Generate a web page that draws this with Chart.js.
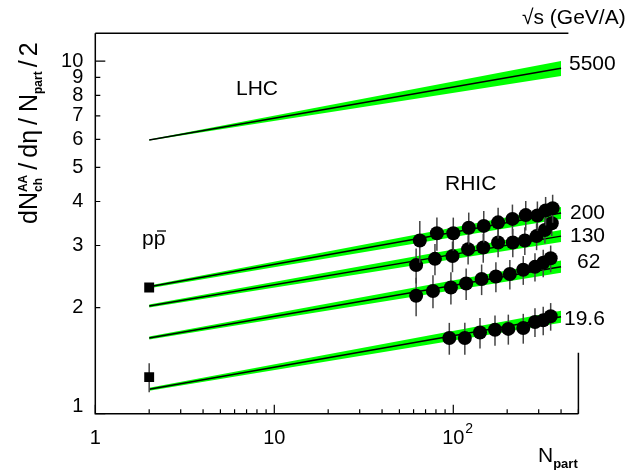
<!DOCTYPE html>
<html>
<head>
<meta charset="utf-8">
<script src="https://cdn.jsdelivr.net/npm/chart.js@4"></script>
<style>
  html, body { margin: 0; padding: 0; background: #fff; }
  #myChart { display: block; }
</style>
</head>
<body>
<canvas id="myChart" width="640" height="470"></canvas>
<script>
// N_part end points of the model curves
const bandNpart = [2, 400]

// model curves: central value, upper and lower edge of green band (at Npart = 2 and 400)
const lhcLine = [5.98, 9.55]
const lhcHi = [6.0, 10.02]
const lhcLo = [5.96, 9.08]

const line200 = [2.29, 3.71]
const hi200 = [2.31, 3.86]
const lo200 = [2.27, 3.57]

const line130 = [2.02, 3.19]
const hi130 = [2.04, 3.32]
const lo130 = [2.0, 3.07]

const line62 = [1.64, 2.61]
const hi62 = [1.655, 2.72]
const lo62 = [1.625, 2.51]

const line19 = [1.173, 1.885]
const hi19 = [1.185, 1.96]
const lo19 = [1.161, 1.81]

// RHIC data
const npart200 = [65, 81, 100, 122, 148, 178, 214, 254, 295, 328, 359]
const val200 = [3.10, 3.25, 3.25, 3.37, 3.41, 3.49, 3.57, 3.66, 3.65, 3.77, 3.83]
const err200 = [0.42, 0.35, 0.35, 0.35, 0.35, 0.35, 0.35, 0.35, 0.35, 0.35, 0.35]

const npart130 = [62, 79, 99, 121, 147, 178, 215, 251, 292, 325, 355]
const val130 = [2.64, 2.75, 2.80, 2.93, 2.96, 3.06, 3.06, 3.10, 3.19, 3.32, 3.47]
const err130 = [0.30, 0.28, 0.28, 0.28, 0.28, 0.28, 0.28, 0.28, 0.28, 0.28, 0.28]

const npart62 = [62, 77, 97, 118, 144, 173, 207, 246, 286, 318, 350]
const val62 = [2.16, 2.23, 2.28, 2.34, 2.41, 2.45, 2.49, 2.56, 2.61, 2.68, 2.76]
const err62 = [0.27, 0.24, 0.24, 0.24, 0.24, 0.24, 0.24, 0.24, 0.24, 0.24, 0.24]

const npart19 = [95, 116, 141, 171, 203, 246, 286, 318, 350]
const val19 = [1.64, 1.64, 1.70, 1.73, 1.74, 1.75, 1.82, 1.84, 1.89]
const err19 = [0.17, 0.17, 0.17, 0.17, 0.17, 0.17, 0.17, 0.17, 0.17]

// p pbar
const npartPP = [2, 2]
const valPP = [2.28, 1.27]
const errPP = [0.05, 0.12]

// axis ticks
const xTicks = [1, 2, 3, 4, 5, 6, 7, 8, 9, 10, 20, 30, 40, 50, 60, 70, 80, 90, 100, 200, 300, 400, 500]
const xMajor = [1, 10, 100]
const yTicks = [1, 2, 3, 4, 5, 6, 7, 8, 9, 10]
const yMajor = [1, 10]

// curve labels (sqrt(s) values)
const energyLabels = ['5500', '200', '130', '62', '19.6']

const GREEN = '#00ff00'
const FONT = '"Liberation Sans", Arial, Helvetica, sans-serif'

const pts = (xs, ys) => xs.map((x, i) => ({ x: x, y: ys[i] }))

function curve(line, hi, lo) {
  return [
    { data: pts(bandNpart, hi), fill: '+1', backgroundColor: GREEN, borderWidth: 0, pointRadius: 0, order: 3 },
    { data: pts(bandNpart, lo), fill: false, borderWidth: 0, pointRadius: 0, order: 3 },
    { data: pts(bandNpart, line), fill: false, borderColor: '#000', borderWidth: 1.5, pointRadius: 0, order: 2 }
  ]
}

function points(xs, ys, errs, style) {
  return {
    data: pts(xs, ys),
    err: errs,
    showLine: false,
    pointStyle: style,
    pointRadius: 7,
    pointBackgroundColor: '#000',
    pointBorderColor: '#000',
    pointBorderWidth: 0,
    order: 0
  }
}

// draws text made of parts [{t, font, dy, stack}], left to right, returns width
function rich(ctx, parts, x, y) {
  let cx = x
  parts.forEach(p => {
    ctx.font = p.font
    if (p.stack) {
      let w = 0
      p.stack.forEach(s => {
        ctx.fillText(s.t, cx, y + s.dy)
        w = Math.max(w, ctx.measureText(s.t).width)
      })
      cx += w + (p.after || 0)
    } else {
      cx += p.before || 0
      ctx.fillText(p.t, cx, y + (p.dy || 0))
      cx += ctx.measureText(p.t).width + (p.after || 0)
    }
  })
  return cx - x
}

const errorBars = {
  id: 'errorBars',
  beforeDatasetDraw(chart, args) {
    const ds = chart.data.datasets[args.index]
    if (!ds.err) return
    const ctx = chart.ctx
    const x = chart.scales.x, y = chart.scales.y
    ctx.save()
    ctx.strokeStyle = '#444'
    ctx.lineWidth = 1.5
    ds.data.forEach((p, i) => {
      const px = x.getPixelForValue(p.x)
      ctx.beginPath()
      ctx.moveTo(px, y.getPixelForValue(p.y - ds.err[i]))
      ctx.lineTo(px, y.getPixelForValue(p.y + ds.err[i]))
      ctx.stroke()
    })
    ctx.restore()
  }
}

const decor = {
  id: 'decor',
  afterDraw(chart) {
    const ctx = chart.ctx
    const a = chart.chartArea
    const x = chart.scales.x, y = chart.scales.y
    ctx.save()
    ctx.strokeStyle = '#000'
    ctx.fillStyle = '#000'
    ctx.lineWidth = 1.5

    // frame (ROOT style: top line and short right stub)
    ctx.beginPath()
    ctx.moveTo(a.left, a.top)
    ctx.lineTo(a.left, a.bottom)
    ctx.lineTo(a.right, a.bottom)
    ctx.moveTo(a.left, a.top)
    ctx.lineTo(a.right - 10, a.top)
    ctx.moveTo(a.right, a.bottom)
    ctx.lineTo(a.right, a.bottom - 61)
    ctx.stroke()

    // ticks, drawn inside
    ctx.lineWidth = 1.2
    ctx.beginPath()
    xTicks.forEach(v => {
      const px = x.getPixelForValue(v)
      const len = xMajor.includes(v) ? 9 : 4.5
      ctx.moveTo(px, a.bottom)
      ctx.lineTo(px, a.bottom - len)
    })
    yTicks.forEach(v => {
      const py = y.getPixelForValue(v)
      const len = yMajor.includes(v) ? 10 : 5
      ctx.moveTo(a.left, py)
      ctx.lineTo(a.left + len, py)
    })
    ctx.stroke()

    // tick labels
    ctx.font = '20px ' + FONT
    ctx.textAlign = 'right'
    ctx.textBaseline = 'middle'
    yTicks.forEach(v => {
      const py = Math.min(y.getPixelForValue(v), a.bottom - 7)
      ctx.fillText(String(v), a.left - 12, py)
    })
    ctx.textAlign = 'center'
    ctx.textBaseline = 'alphabetic'
    ctx.fillText('1', x.getPixelForValue(1), a.bottom + 30)
    ctx.fillText('10', x.getPixelForValue(10), a.bottom + 30)
    ctx.fillText('10', x.getPixelForValue(100), a.bottom + 30)
    ctx.textAlign = 'left'
    ctx.font = '14px ' + FONT
    ctx.fillText('2', x.getPixelForValue(100) + 12, a.bottom + 19)

    // x title
    ctx.textBaseline = 'alphabetic'
    rich(ctx, [
      { t: 'N', font: '21px ' + FONT },
      { t: 'part', font: 'bold 13px ' + FONT, dy: 6 }
    ], 538, 462)

    // y title, rotated
    ctx.save()
    ctx.translate(37, 224)
    ctx.rotate(-Math.PI / 2)
    const big = '25px ' + FONT
    const small = 'bold 12px ' + FONT
    rich(ctx, [
      { t: 'dN', font: big },
      { stack: [{ t: 'AA', dy: -10 }, { t: 'ch', dy: 5 }], font: small, after: 1 },
      { t: '/', font: big, before: 4, after: 5 },
      { t: 'd\u03b7', font: big },
      { t: '/', font: big, before: 5, after: 6 },
      { t: 'N', font: big },
      { t: 'part', font: small, dy: 5 },
      { t: '/', font: big, before: 4, after: 4 },
      { t: '2', font: big }
    ], 0, 0)
    ctx.restore()

    // sqrt(s) header
    ctx.font = '21px ' + FONT
    ctx.textAlign = 'left'
    ctx.textBaseline = 'alphabetic'
    ctx.fillText('\u221as (GeV/A)', 522, 24)

    // curve labels
    ctx.font = '21px ' + FONT
    ctx.textBaseline = 'middle'
    ctx.fillText(energyLabels[0], 569, 64)
    ctx.fillText(energyLabels[1], 570, 213)
    ctx.fillText(energyLabels[2], 570, 236)
    ctx.fillText(energyLabels[3], 577, 262)
    ctx.fillText(energyLabels[4], 564, 319)

    // experiment labels
    ctx.fillText('LHC', 236, 89)
    ctx.fillText('RHIC', 445, 184)
    ctx.textBaseline = 'alphabetic'
    ctx.fillText('pp', 142, 245)
    // bar over the anti-proton
    ctx.lineWidth = 1.3
    ctx.beginPath()
    ctx.moveTo(157, 231)
    ctx.lineTo(166, 231)
    ctx.stroke()

    ctx.restore()
  }
}

const datasets = [].concat(
  curve(lhcLine, lhcHi, lhcLo),
  curve(line200, hi200, lo200),
  curve(line130, hi130, lo130),
  curve(line62, hi62, lo62),
  curve(line19, hi19, lo19),
  [
    points(npart200, val200, err200, 'circle'),
    points(npart130, val130, err130, 'circle'),
    points(npart62, val62, err62, 'circle'),
    points(npart19, val19, err19, 'circle'),
    points(npartPP, valPP, errPP, 'rect')
  ]
)

const ctx = document.getElementById('myChart')

const myChart = new Chart(ctx, {
  type: 'line',
  data: { datasets: datasets },
  options: {
    responsive: false,
    animation: false,
    devicePixelRatio: 1,
    layout: { padding: { left: 95.3, right: 61.6, top: 33.3, bottom: 56.3 } },
    scales: {
      x: { type: 'logarithmic', min: 1, max: 500, display: false },
      y: { type: 'logarithmic', min: 1, max: 12, display: false }
    },
    plugins: {
      legend: { display: false },
      tooltip: { enabled: false }
    }
  },
  plugins: [errorBars, decor]
})
</script>
</body>
</html>
